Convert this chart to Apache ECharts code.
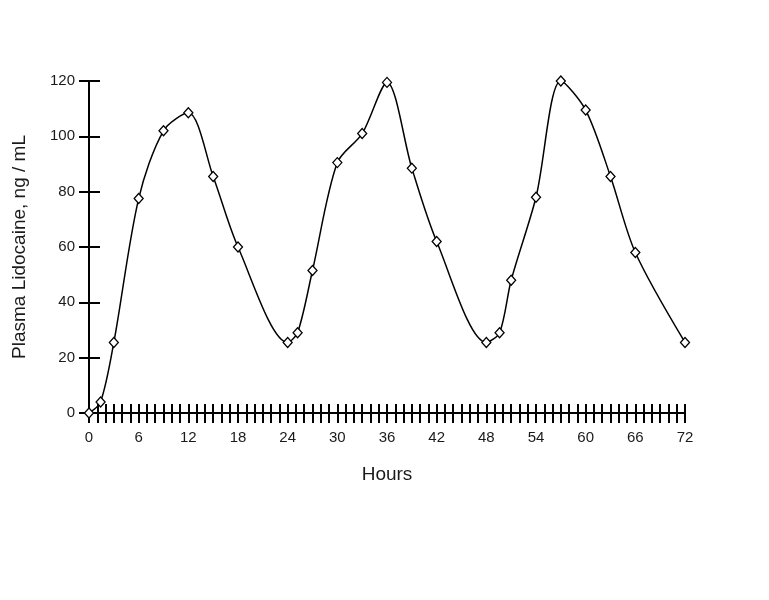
<!DOCTYPE html>
<html>
<head>
<meta charset="utf-8">
<script src="https://cdn.jsdelivr.net/npm/echarts@6/dist/echarts.min.js"></script>
<style>
  html, body { margin: 0; padding: 0; background: #fff; }
  #main { width: 769px; height: 600px; }
</style>
</head>
<body>
<div id="main"></div>
<script>
// hours after start, plasma level in ng/mL
var hours = [0, 1.4, 3, 6, 9, 12, 15, 18, 24, 25.2, 27, 30, 33, 36, 39, 42, 48, 49.6, 51, 54, 57, 60, 63, 66, 72];
var plasma = [0, 4, 25.5, 77.5, 102, 108.5, 85.5, 60, 25.5, 29, 51.5, 90.5, 101, 119.5, 88.5, 62, 25.5, 29, 48, 78, 120, 109.5, 85.5, 58, 25.5];
var yTicks = [0, 20, 40, 60, 80, 100, 120];
var xLabelStep = 6;

var dom = document.getElementById('main');
var chart = echarts.init(dom);

var points = hours.map(function (h, i) { return [h, plasma[i]]; });
var txt = '#1a1a1a';
var font = 'Liberation Sans, Arial, sans-serif';

var option = {
    backgroundColor: '#fff',
    animation: false,
    textStyle: { fontFamily: font },
    grid: { left: 89, right: 84, top: 81, bottom: 187 },
    xAxis: [{
        type: 'value',
        min: 0,
        max: 72,
        interval: 1,
        name: 'Hours',
        nameLocation: 'middle',
        nameGap: 52,
        nameTextStyle: { fontSize: 19, color: txt },
        splitLine: { show: false },
        axisLine: { lineStyle: { color: '#000', width: 2 } },
        axisTick: { length: 10, lineStyle: { color: '#000', width: 2 } },
        axisLabel: {
            margin: 17,
            fontSize: 15,
            color: txt,
            formatter: function (v) { return v % xLabelStep === 0 ? String(v) : ''; }
        }
    }, {
        type: 'value',
        min: 0,
        max: 72,
        interval: 1,
        position: 'bottom',
        splitLine: { show: false },
        axisLine: { show: false },
        axisTick: { inside: true, length: 9, lineStyle: { color: '#000', width: 2 } },
        axisLabel: { show: false }
    }],
    yAxis: [{
        type: 'value',
        min: yTicks[0],
        max: yTicks[yTicks.length - 1],
        interval: 20,
        name: 'Plasma Lidocaine, ng / mL',
        nameLocation: 'middle',
        nameGap: 60,
        nameTextStyle: { fontSize: 19, color: txt },
        splitLine: { show: false },
        axisLine: { lineStyle: { color: '#000', width: 2 } },
        axisTick: { length: 10, lineStyle: { color: '#000', width: 2 } },
        axisLabel: { margin: 14, fontSize: 15, color: txt }
    }, {
        type: 'value',
        min: 0,
        max: 120,
        interval: 20,
        position: 'left',
        splitLine: { show: false },
        axisLine: { show: false },
        axisTick: { inside: true, length: 11, lineStyle: { color: '#000', width: 2 } },
        axisLabel: { show: false }
    }],
    series: [{
        type: 'line',
        data: points,
        xAxisIndex: 0,
        yAxisIndex: 0,
        smooth: 0.3,
        symbol: 'diamond',
        symbolSize: [9, 10],
        showAllSymbol: true,
        lineStyle: { color: '#000', width: 1.5 },
        itemStyle: { color: '#fff', borderColor: '#000', borderWidth: 1.3 },
        z: 5
    }]
};
chart.setOption(option);
</script>
</body>
</html>
